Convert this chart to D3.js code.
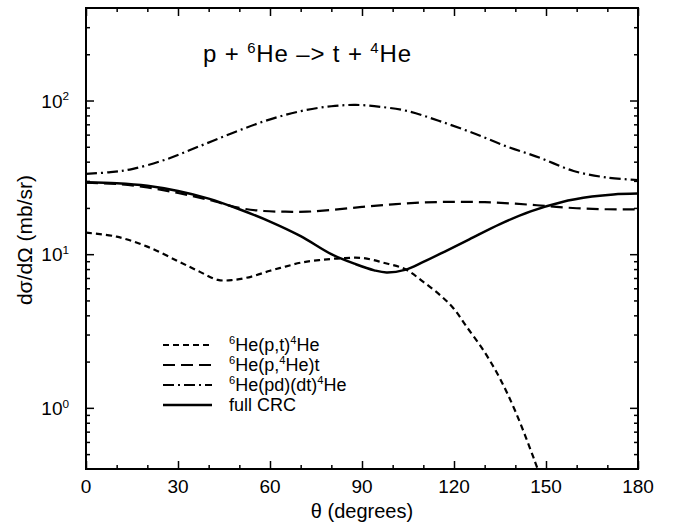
<!DOCTYPE html>
<html>
<head>
<meta charset="utf-8">
<script src="https://cdn.jsdelivr.net/npm/d3@7"></script>
<style>
  body { margin: 0; background: #fff; }
  svg { display: block; font-family: "Liberation Sans", Arial, Helvetica, sans-serif; }
</style>
</head>
<body>
<svg id="chart"></svg>
<script>
const width = 680;
const height = 524;

// angles (degrees) and cross sections (mb/sr)
const ptDeg = [0, 10, 20, 30, 37, 43, 48, 54, 60, 65, 70, 76, 83, 90, 97, 104, 110, 116, 120, 124, 130, 135, 140, 146, 150];
const ptVal = [13.8, 13.0, 11.2, 9.0, 7.7, 6.8, 6.8, 7.15, 7.8, 8.3, 8.8, 9.15, 9.4, 9.45, 8.8, 8.0, 6.6, 5.3, 4.4, 3.4, 2.3, 1.55, 0.95, 0.47, 0.28];

const p4Deg = [0, 10, 20, 30, 40, 50, 58, 65, 72, 80, 90, 100, 110, 120, 130, 140, 150, 160, 170, 180];
const p4Val = [29.2, 28.6, 27.2, 25.0, 22.6, 20.0, 19.1, 18.9, 18.9, 19.4, 20.3, 21.1, 21.7, 21.9, 21.8, 21.3, 20.6, 19.9, 19.6, 19.6];

const pdDeg = [0, 8, 15, 26, 37, 48, 59, 70, 80, 88, 96, 105, 115, 126, 137, 148, 159, 170, 180];
const pdVal = [33.3, 34.2, 35.8, 41.3, 50.4, 61.7, 74.3, 85.3, 91.8, 93.6, 91.0, 85.3, 73.8, 61.7, 50.4, 42.4, 34.8, 31.5, 30.4];

const crcDeg = [0, 10, 20, 30, 40, 50, 60, 70, 80, 88, 94, 98, 104, 110, 117, 125, 135, 145, 155, 165, 172, 180];
const crcVal = [29.4, 29.0, 27.9, 25.8, 23.0, 19.6, 16.3, 13.1, 10.0, 8.6, 7.85, 7.6, 7.9, 8.9, 10.4, 12.5, 15.7, 19.0, 21.8, 23.7, 24.5, 24.8];

const xTicks = [0, 30, 60, 90, 120, 150, 180];
const xMinor = [10, 20, 40, 50, 70, 80, 100, 110, 130, 140, 160, 170];
const yTicks = [1, 10, 100];
const yTickLabels = ["10^{0}", "10^{1}", "10^{2}"];

const series = [
    { label: "^{6}He(p,t)^{4}He", deg: ptDeg, val: ptVal, dash: "6,4", sw: 2.2 },
    { label: "^{6}He(p,^{4}He)t", deg: p4Deg, val: p4Val, dash: "12,6", sw: 2.2 },
    { label: "^{6}He(pd)(dt)^{4}He", deg: pdDeg, val: pdVal, dash: "11,4,2,4", sw: 2.2 },
    { label: "full CRC", deg: crcDeg, val: crcVal, dash: null, sw: 2.5 }
];

const x = d3.scaleLinear().domain([0, 180]).range([86, 638]);
const y = d3.scaleLog().domain([0.4, 400]).range([469, 8]);

const svg = d3.select("#chart").attr("width", width).attr("height", height);

// minor y ticks: 2..9 in each decade
const yMinor = [];
[0.1, 1, 10, 100].forEach(d => {
    for (let k = 2; k <= 9; k++) {
        const v = d * k;
        if (v > 0.4 && v < 400) yMinor.push(v);
    }
});

function richText(sel, str, size) {
    const parts = str.split(/(\^\{[^}]*\})/).filter(s => s.length);
    let raised = false;
    parts.forEach(p => {
        if (p.startsWith("^{")) {
            sel.append("tspan").attr("dy", raised ? 0 : -size * 0.38)
                .attr("font-size", size * 0.62).text(p.slice(2, -1));
            raised = true;
        } else {
            sel.append("tspan").attr("dy", raised ? size * 0.38 : 0).text(p);
            raised = false;
        }
    });
}

const x0 = x.range()[0], x1 = x.range()[1];
const y0 = y.range()[0], y1 = y.range()[1];

svg.append("defs").append("clipPath").attr("id", "clip")
    .append("rect").attr("x", x0).attr("y", y1).attr("width", x1 - x0).attr("height", y0 - y1);

// curves
const line = d3.line()
    .x(d => x(d[0]))
    .y(d => y(d[1]))
    .curve(d3.curveCatmullRom.alpha(0.5));

const curves = svg.append("g").attr("clip-path", "url(#clip)");
series.forEach(s => {
    curves.append("path")
        .datum(s.deg.map((d, i) => [d, s.val[i]]))
        .attr("fill", "none")
        .attr("stroke", "#000")
        .attr("stroke-width", s.sw)
        .attr("stroke-dasharray", s.dash)
        .attr("d", line);
});

// axes (ticks pointing inward on all four sides)
function tickAxis(axisFn, scale, values, size, transform) {
    svg.append("g")
        .attr("transform", transform)
        .call(axisFn(scale).tickValues(values).tickSizeInner(-size).tickSizeOuter(0).tickFormat(""))
        .call(g => g.select(".domain").remove())
        .call(g => g.selectAll("line").attr("stroke-width", 1.5));
}
tickAxis(d3.axisBottom, x, xTicks, 8, `translate(0,${y0})`);
tickAxis(d3.axisBottom, x, xMinor, 4, `translate(0,${y0})`);
tickAxis(d3.axisTop, x, xTicks, 8, `translate(0,${y1})`);
tickAxis(d3.axisTop, x, xMinor, 4, `translate(0,${y1})`);
tickAxis(d3.axisLeft, y, yTicks, 8, `translate(${x0},0)`);
tickAxis(d3.axisLeft, y, yMinor, 4, `translate(${x0},0)`);
tickAxis(d3.axisRight, y, yTicks, 8, `translate(${x1},0)`);
tickAxis(d3.axisRight, y, yMinor, 4, `translate(${x1},0)`);

svg.append("rect")
    .attr("x", x0).attr("y", y1)
    .attr("width", x1 - x0).attr("height", y0 - y1)
    .attr("fill", "none").attr("stroke", "#000").attr("stroke-width", 2);

// tick labels
svg.append("g").selectAll("text")
    .data(xTicks)
    .enter().append("text")
    .attr("x", d => x(d))
    .attr("y", y0 + 24)
    .attr("text-anchor", "middle")
    .attr("font-size", 19)
    .text(d => d);

yTicks.forEach((v, i) => {
    const t = svg.append("text")
        .attr("x", x0 - 17)
        .attr("y", y(v) + 7)
        .attr("text-anchor", "end")
        .attr("font-size", 19);
    richText(t, yTickLabels[i], 19);
});

// axis titles
svg.append("text")
    .attr("x", (x0 + x1) / 2)
    .attr("y", height - 6)
    .attr("text-anchor", "middle")
    .attr("font-size", 20)
    .text("θ (degrees)");

svg.append("text")
    .attr("transform", `translate(32,${240}) rotate(-90)`)
    .attr("text-anchor", "middle")
    .attr("font-size", 21)
    .text("dσ/dΩ (mb/sr)");

// reaction title
const title = svg.append("text")
    .attr("x", 203)
    .attr("y", 62)
    .attr("font-size", 24)
    .attr("textLength", 208)
    .attr("lengthAdjust", "spacing");
richText(title, "p + ^{6}He –> t + ^{4}He", 24);

// legend
const legend = svg.append("g").attr("transform", "translate(163,345)");
series.forEach((s, i) => {
    const row = legend.append("g").attr("transform", `translate(0,${i * 20})`);
    row.append("line")
        .attr("x1", 0).attr("x2", 49)
        .attr("stroke", "#000")
        .attr("stroke-width", s.sw)
        .attr("stroke-dasharray", s.dash);
    const t = row.append("text")
        .attr("x", 66)
        .attr("y", 6)
        .attr("font-size", 18);
    richText(t, s.label, 18);
});
</script>
</body>
</html>
